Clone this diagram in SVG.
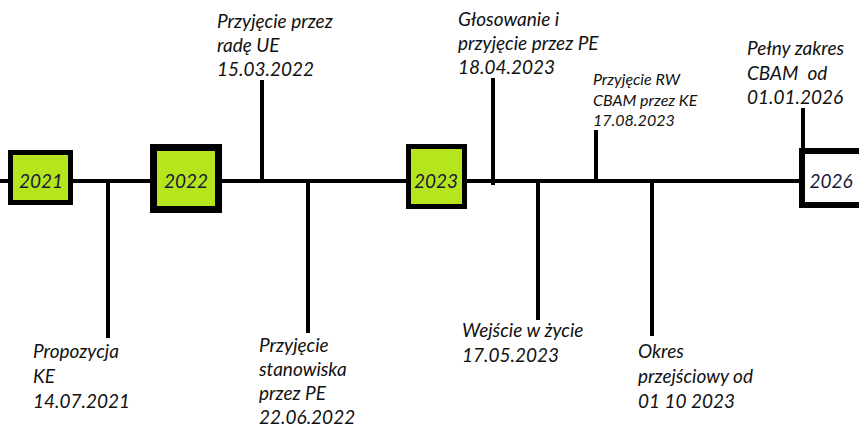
<svg xmlns="http://www.w3.org/2000/svg" width="859" height="428" viewBox="0 0 859 428">
<style>
.t{font-family:Lato,"Liberation Sans",sans-serif;font-style:italic;font-size:19px;fill:#111;}
.s{font-size:16px;}
.y{font-family:Lato,"Liberation Sans",sans-serif;font-style:italic;font-size:19px;fill:#1a1a3a;text-anchor:middle;}
.ln{stroke:#000;stroke-width:4;fill:none;}
.g{fill:#b5e61d;stroke:#000;}
.w{fill:#fff;stroke:#000;}
</style>
<rect width="859" height="428" fill="#fff"/>
<g id="connectors">
<line class="ln" x1="0" y1="181" x2="859" y2="181"/>
<line class="ln" x1="108" y1="181" x2="108" y2="338"/>
<line class="ln" x1="262" y1="80" x2="262" y2="181"/>
<line class="ln" x1="308" y1="181" x2="308" y2="333"/>
<line class="ln" x1="493" y1="78" x2="493" y2="185"/>
<line class="ln" x1="538" y1="181" x2="538" y2="320"/>
<line class="ln" x1="596" y1="130" x2="596" y2="181"/>
<line class="ln" x1="652" y1="181" x2="652" y2="336"/>
<line class="ln" x1="803" y1="108" x2="803" y2="181"/>
</g>
<g id="y2021"><rect class="g" x="10.5" y="152.5" width="60" height="50" stroke-width="5"/><text class="y" x="41" y="188">2021</text></g>
<g id="y2022"><rect class="g" x="153.5" y="147.5" width="65" height="62" stroke-width="7"/><text class="y" x="186" y="188">2022</text></g>
<g id="y2023"><rect class="g" x="408.5" y="146.5" width="56" height="60" stroke-width="5"/><text class="y" x="436" y="188">2023</text></g>
<g id="y2026"><rect class="w" x="802" y="151" width="62" height="54" stroke-width="6"/><text class="y" x="831" y="188">2026</text></g>
<g id="e1"><text class="t" x="33" y="358">Propozycja</text><text class="t" x="33" y="383">KE</text><text class="t" x="33" y="408">14.07.2021</text></g>
<g id="e2"><text class="t" x="217" y="28">Przyjęcie przez</text><text class="t" x="217" y="52">radę UE</text><text class="t" x="217" y="76">15.03.2022</text></g>
<g id="e3"><text class="t" x="259" y="352">Przyjęcie</text><text class="t" x="259" y="376">stanowiska</text><text class="t" x="259" y="400">przez PE</text><text class="t" x="259" y="424">22.06.2022</text></g>
<g id="e4"><text class="t" x="458" y="26">Głosowanie i</text><text class="t" x="458" y="50">przyjęcie przez PE</text><text class="t" x="458" y="74">18.04.2023</text></g>
<g id="e5"><text class="t" x="462" y="337">Wejście w życie</text><text class="t" x="462" y="362">17.05.2023</text></g>
<g id="e6"><text class="t s" x="593" y="85">Przyjęcie RW</text><text class="t s" x="593" y="106">CBAM przez KE</text><text class="t s" x="593" y="126">17.08.2023</text></g>
<g id="e7"><text class="t" x="638" y="358">Okres</text><text class="t" x="638" y="383">przejściowy od</text><text class="t" x="638" y="408">01 10 2023</text></g>
<g id="e8"><text class="t" x="747" y="55">Pełny zakres</text><text class="t" x="747" y="80" xml:space="preserve">CBAM  od</text><text class="t" x="747" y="104">01.01.2026</text></g>
</svg>
